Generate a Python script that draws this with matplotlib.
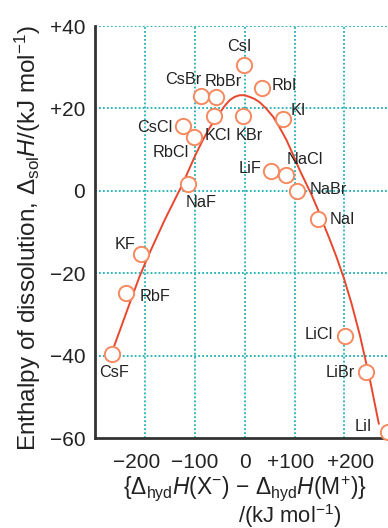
import matplotlib
matplotlib.use("Agg")
import matplotlib.pyplot as plt
from matplotlib.transforms import ScaledTranslation

FONT = 'Liberation Sans'
plt.rcParams['font.family'] = [FONT, 'DejaVu Sans']
plt.rcParams['mathtext.fontset'] = 'custom'
plt.rcParams['mathtext.rm'] = FONT
plt.rcParams['mathtext.it'] = FONT + ':italic'
plt.rcParams['mathtext.bf'] = FONT + ':bold'

# Salts: x = {dhydH(X-) - dhydH(M+)}, y = dsolH (kJ/mol)
salts = ["CsI", "RbI", "CsBr", "RbBr", "KCl", "KBr", "KI", "CsCl", "RbCl", "NaF",
         "LiF", "NaCl", "NaBr", "NaI", "KF", "RbF", "CsF", "LiCl", "LiBr", "LiI"]
x_vals = [-2, 35, -88, -58, -61, -3, 76, -123, -102, -113,
          53, 82, 106, 147, -207, -238, -266, 201, 243, 288]
y_vals = [30.5, 25, 23, 22.7, 18.1, 18.1, 17.4, 15.8, 13.1, 1.6,
          4.7, 3.8, -0.1, -6.9, -15.4, -24.7, -39.5, -35.2, -44, -58.5]
label_x = [-10, 80, -123, -42, -54, 9, 107, -181, -147, -88,
           11, 121, 167, 196, -239, -179, -261, 149, 191, 238]
label_y = [35, 25.5, 27, 26.6, 13.5, 13.5, 19.6, 15.4, 9.2, -2.9,
           5.4, 7.6, 0.3, -6.9, -13, -25.7, -44.2, -34.9, -44.2, -57.1]

# Trend curve
curve_x = [-261, -228, -211, -191, -160, -127, -110, -97, -83, -70, -60, -50, -40, -30,
           -20, -10, 0, 10, 20, 30, 43, 57, 70, 84, 97, 110.5, 122, 134, 146, 157,
           170, 184, 199, 214, 231, 251, 269]
curve_y = [-37.5, -26.5, -20.9, -15.2, -7.0, 1.0, 5.6, 9.1, 12.5, 15.3, 17.2, 18.9,
           20.6, 22.0, 22.8, 23.2, 23.2, 22.8, 22.3, 21.5, 20.0, 18.0, 15.4, 12.3,
           8.8, 5.0, 2.1, -0.9, -4.3, -7.7, -11.6, -16.0, -21.2, -27.2, -35.0,
           -45.7, -56.5]

xticks = [-200, -100, 0, 100, 200]
xticklabels = ["\u2212200", "\u2212100", "0", "+100", "+200"]
xtick_shift_px = [-8, 0, 0, -4, 6]
yticks = [40, 20, 0, -20, -40, -60]
yticklabels = ["+40", "+20", "0", "\u221220", "\u221240", "\u221260"]

fig = plt.figure(figsize=(3.88, 5.28), dpi=100)
ax = fig.add_axes([95/388, 1-438/528, (394.25-95)/388, (438-26)/528])
ax.set_xlim(-300, 300)
ax.set_ylim(-60, 40)

grid_c = '#1fb0b4'
for gx in [-200, -100, 0, 100, 200, 300]:
    ax.axvline(gx, color=grid_c, lw=1.3, ls=(0, (1, 1.2)), zorder=0)
for gy in [40, 20, 0, -20, -40]:
    ax.axhline(gy, color=grid_c, lw=1.3, ls=(0, (1, 1.2)), zorder=0)

for s in ['top', 'right']:
    ax.spines[s].set_visible(False)
for s in ['left', 'bottom']:
    ax.spines[s].set_color('#333333')
    ax.spines[s].set_linewidth(2)

ax.plot(curve_x, curve_y, color='#e8472e', lw=1.4, zorder=2, clip_on=False,
        solid_joinstyle='round')
ax.plot(x_vals, y_vals, ls='none', marker='o', ms=11, mfc='white',
        mec='#f5895f', mew=1.4, zorder=3, clip_on=False)
for name, lx, ly in zip(salts, label_x, label_y):
    ax.text(lx, ly, name, ha='center', va='center', fontsize=11.7,
            color='#222222', zorder=4)

ax.set_xticks(xticks)
ax.set_xticklabels(xticklabels)
ax.set_yticks(yticks)
ax.set_yticklabels(yticklabels)
ax.tick_params(length=0, labelsize=15, colors='#222222')
ax.tick_params(axis='y', pad=7)
ax.tick_params(axis='x', pad=11)
for lab, dx in zip(ax.get_xticklabels(), xtick_shift_px):
    lab.set_transform(lab.get_transform() + ScaledTranslation(dx/100, 0, fig.dpi_scale_trans))

fig.text(28/388, 1-238/528,
         r"Enthalpy of dissolution, $\Delta_{\mathrm{sol}}H$/(kJ mol$^{-1}$)",
         rotation=90, ha='center', va='center', fontsize=17.5, color='#222222')
fig.text(245/388, 1-495/528,
         r"{$\Delta_{\mathrm{hyd}}H$(X$^{-}$) $-$ $\Delta_{\mathrm{hyd}}H$(M$^{+}$)}",
         ha='center', va='baseline', fontsize=16.4, color='#222222')
fig.text(290/388, 1-522.5/528, r"/(kJ mol$^{-1}$)",
         ha='center', va='baseline', fontsize=15.8, color='#222222')

fig.savefig("out.png", dpi=100)
